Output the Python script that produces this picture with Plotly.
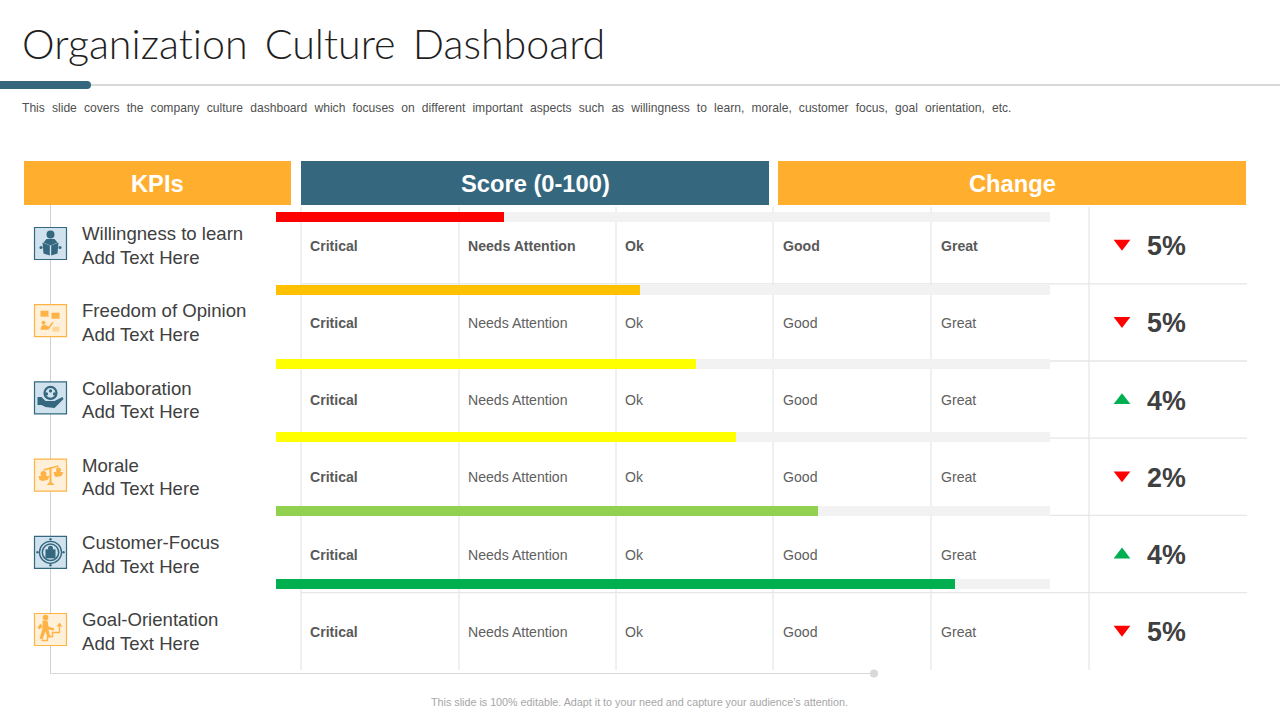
import plotly.graph_objects as go

kpis = ["Willingness to learn", "Freedom of Opinion", "Collaboration", "Morale", "Customer-Focus", "Goal-Orientation"]
scores = [29.5, 47, 54.2, 59.4, 70, 87.7]
score_colors = ["#FF0000", "#FFC000", "#FFFF00", "#FFFF00", "#92D050", "#00B050"]
zones = ["Critical", "Needs Attention", "Ok", "Good", "Great"]
changes = ["5%", "5%", "4%", "2%", "4%", "5%"]
directions = ["down", "down", "up", "down", "up", "down"]
headers = ["KPIs", "Score (0-100)", "Change"]

ORANGE, TEAL, INK, LINE = "#FFAE2D", "#35687F", "#404040", "#E0E0E0"
rows = list(range(6))
bar_px, bar_step = 216.5, 73.5
bar_w = 10 / bar_step
grid_x = [301, 459, 616, 773, 931, 1089]

def ry(i):
    return 245.5 + 77.2 * i

shapes, ann = [], []

def rect(x0, y0, x1, y1, fill, line=None, lw=1):
    shapes.append(dict(type="rect", xref="x", yref="y", x0=x0, y0=y0, x1=x1, y1=y1, fillcolor=fill,
                       line=dict(color=line or fill, width=lw if line else 0), layer="below"))

def seg(x0, y0, x1, y1, color=LINE, w=1.0):
    shapes.append(dict(type="line", xref="x", yref="y", x0=x0, y0=y0, x1=x1, y1=y1,
                       line=dict(color=color, width=w), layer="below"))

def circ(cx, cy, r, fill=None, line=None, w=1.0):
    shapes.append(dict(type="circle", xref="x", yref="y", x0=cx-r, y0=cy-r, x1=cx+r, y1=cy+r,
                       fillcolor=fill or "rgba(0,0,0,0)", line=dict(color=line or fill, width=w if line else 0), layer="below"))

def poly(cx, cy, pts, fill=None, line=None, w=1.0, close=True):
    d = "M" + " L".join(f"{cx+a:.1f},{cy+b:.1f}" for a, b in pts) + (" Z" if close else "")
    shapes.append(dict(type="path", xref="x", yref="y", path=d, fillcolor=fill or "rgba(0,0,0,0)",
                       line=dict(color=line or fill, width=w if line else 0), layer="below"))

def text(x, y, s, size, color=INK, bold=False, anchor="left", family="Liberation Sans", weight=None):
    font = dict(family=family, size=size, color=color)
    if weight:
        font["weight"] = weight
    ann.append(dict(xref="x", yref="y", x=x, y=y, text=f"<b>{s}</b>" if bold else s, showarrow=False, xanchor=anchor,
                    yanchor="middle", align=anchor, font=font, borderpad=0, borderwidth=0))

# header rule
seg(80, 85, 1280, 85, "#D9D9D9", 2)
shapes.append(dict(type="path", xref="x", yref="y", layer="below", fillcolor=TEAL, line=dict(width=0),
                   path="M0,81 L87,81 Q91,81 91,85 Q91,89 87,89 L0,89 Z"))
# header bands
for (a, b), h, c in zip([(24, 291), (301, 769), (778, 1246)], headers, [ORANGE, TEAL, ORANGE]):
    rect(a, 161, b, 205, c)
    text((a + b) / 2, 183.5, h, 23.7, "#FFFFFF", True, "center")
# table lines
seg(50.5, 205, 50.5, 673, "#D0D0D0")
seg(50, 673.5, 874, 673.5, "#D9D9D9")
circ(874, 673.5, 4, "#D9D9D9")
for x in grid_x:
    seg(x, 207, x, 670)
for i in rows[:-1]:
    seg(301, ry(i) + 38.3, 1247, ry(i) + 38.3, "#E6E6E6", 1.3)

BLUE_FILL, ORANGE_FILL, OG = "#CFE2EE", "#FFF0DA", "#FFB347"
def icon(i):
    cx, cy = 50.5, ry(i) - 2
    blue = i in (0, 2, 4)
    rect(cx-16, cy-16, cx+16, cy+16, BLUE_FILL if blue else ORANGE_FILL, TEAL if blue else OG, 1.2)
    c = TEAL if blue else OG
    if i == 0:
        circ(cx, cy-9, 4, c)
        poly(cx, cy, [(-7,-1),(-4,-4.5),(4,-4.5),(7,-1),(0,2)], c)
        poly(cx, cy, [(-8,-1),(-0.7,2),(-0.7,12),(-7,10)], c)
        poly(cx, cy, [(8,-1),(0.7,2),(0.7,12),(7,10)], c)
        circ(cx-9.5, cy+4, 1.6, c); circ(cx+9.5, cy+4, 1.6, c)
    elif i == 1:
        poly(cx, cy, [(-10,-10),(-2,-10),(-2,-4),(-10,-4)], c)
        poly(cx, cy, [(1,-8),(9,-8),(9,-2),(1,-2)], c)
        circ(cx-7, cy+2, 2, c)
        poly(cx, cy, [(-10,9),(-9,5),(-5,4),(-2,6),(2,1),(3,2),(-2,9)], c)
        poly(cx, cy, [(2,6),(9,6),(9,11),(2,11)], "#FFD698")
    elif i == 2:
        circ(cx, cy-5, 6, None, c, 2.2)
        circ(cx-4, cy-4, 1.6, c); circ(cx+4, cy-4, 1.6, c); circ(cx, cy-7, 1.6, c)
        poly(cx, cy, [(-13,-1),(-9,-1),(-5,3),(4,3),(12,-1),(13,1),(4,10),(-5,9),(-9,7),(-13,7)], c)
    elif i == 3:
        seg(cx-7, cy-5, cx+8, cy-9, c, 1.6)
        poly(cx, cy, [(-1,-8),(1,-8),(1,7),(4,10),(-4,10),(-1,7)], c)
        poly(cx, cy, [(-12,1),(-1,1),(-3,5),(-8,6),(-11,5)], c)
        circ(cx-7, cy-1, 3, c)
        poly(cx, cy, [(3,-3),(13,-3),(11,1),(6,2),(4,1)], c)
        circ(cx+8, cy-5, 2.5, c)
    elif i == 4:
        circ(cx, cy, 11, None, c, 1.3)
        circ(cx, cy, 8.2, None, c, 1.5)
        poly(cx, cy, [(-5,-3),(5,-3),(5,6),(-5,6)], c)
        circ(cx, cy-4, 2.5, c)
        for a, b in [(-13,0),(13,0),(0,-13),(0,13)]:
            circ(cx+a, cy+b, 1.2, c)
    else:
        circ(cx-5, cy-12, 2.8, c)
        poly(cx, cy, [(-8,-9),(-3,-9),(-2,-3),(4,-1),(3,1),(-2,0),(0,8),(-3,8),(-5,2),(-8,10),(-11,9),(-8,-1)], c)
        poly(cx, cy, [(-10,-6),(-13,-2),(-11,0),(-8,-3)], c)
        poly(cx, cy, [(-9,11),(-3,11),(-3,7),(2,7),(2,3),(9,3),(9,-4)], None, c, 1.4, close=False)
        poly(cx, cy, [(6,-3),(9,-7),(12,-3)], c)

for i, k in enumerate(kpis):
    icon(i)
    text(82, ry(i) - 11.9, k, 18.6)
    text(82, ry(i) + 11.7, "Add Text Here", 18.6)
    for j, z in enumerate(zones):
        bold = j == 0 or i == 0
        text(grid_x[j] + (10 if j >= 3 else 9.3), ry(i) + 0.2, z, 14.1, "#595959" if bold else "#606060", bold)
    text(1147, ry(i) + 0.6, changes[i], 26.8, INK, True)

text(22, 42.5, "Organization Culture Dashboard", 41.2, "#1F1F1F", family="Lato", weight=300)
text(22, 107.5, "This slide covers the company culture dashboard which focuses on different important aspects such as willingness to learn, morale, customer focus, goal orientation, etc.", 12.1, "#505050")
text(639.5, 702, "This slide is 100% editable. Adapt it to your need and capture your audience’s attention.", 10.75, "#A6A6A6", anchor="center")

fig = go.Figure()
fig.add_trace(go.Scatter(x=[0], y=[0], xaxis="x", yaxis="y", mode="markers", marker=dict(opacity=0), hoverinfo="skip"))
fig.add_trace(go.Bar(y=rows, x=[100] * 6, xaxis="x2", yaxis="y2", orientation="h", width=bar_w, marker=dict(color="#F2F2F2", line_width=0), hoverinfo="skip"))
fig.add_trace(go.Bar(y=rows, x=scores, xaxis="x2", yaxis="y2", orientation="h", width=bar_w, marker=dict(color=score_colors, line_width=0), name="Score"))
fig.add_trace(go.Scatter(x=[1122] * 6, y=[ry(r) + (-2 if d == "down" else 0.5) for r, d in zip(rows, directions)], xaxis="x", yaxis="y", mode="markers", name="Change",
                         marker=dict(symbol=["triangle-down" if d == "down" else "triangle-up" for d in directions], size=14.5, line_width=0,
                                     color=["#FF0000" if d == "down" else "#00B050" for d in directions])))
fig.update_layout(
    width=1280, height=720, margin=dict(l=0, r=0, t=0, b=0, pad=0), autosize=False, showlegend=False,
    paper_bgcolor="#FFFFFF", plot_bgcolor="rgba(0,0,0,0)", barmode="overlay", bargap=0,
    xaxis=dict(domain=[0, 1], range=[0, 1280], visible=False, anchor="y"),
    yaxis=dict(domain=[0, 1], range=[720, 0], visible=False, anchor="x"),
    xaxis2=dict(domain=[276 / 1280, 1050 / 1280], range=[0, 100], visible=False, anchor="y2"),
    yaxis2=dict(domain=[0, 1], range=[(720 - bar_px) / bar_step, -bar_px / bar_step], visible=False, anchor="x2"),
    shapes=shapes, annotations=ann,
)
post = """
document.body.style.margin='0';document.documentElement.style.overflow='hidden';
document.querySelectorAll('.annotation-text').forEach(function(t){
  var s=t.textContent;
  t.style.fontVariantLigatures='none';
  if(s.indexOf('Organization')===0){t.style.wordSpacing='6px';}
  if(s.indexOf('This slide covers')===0){t.style.wordSpacing='3.75px';}
});
"""
fig.write_html("out.html", post_script=post, config=dict(displayModeBar=False))
